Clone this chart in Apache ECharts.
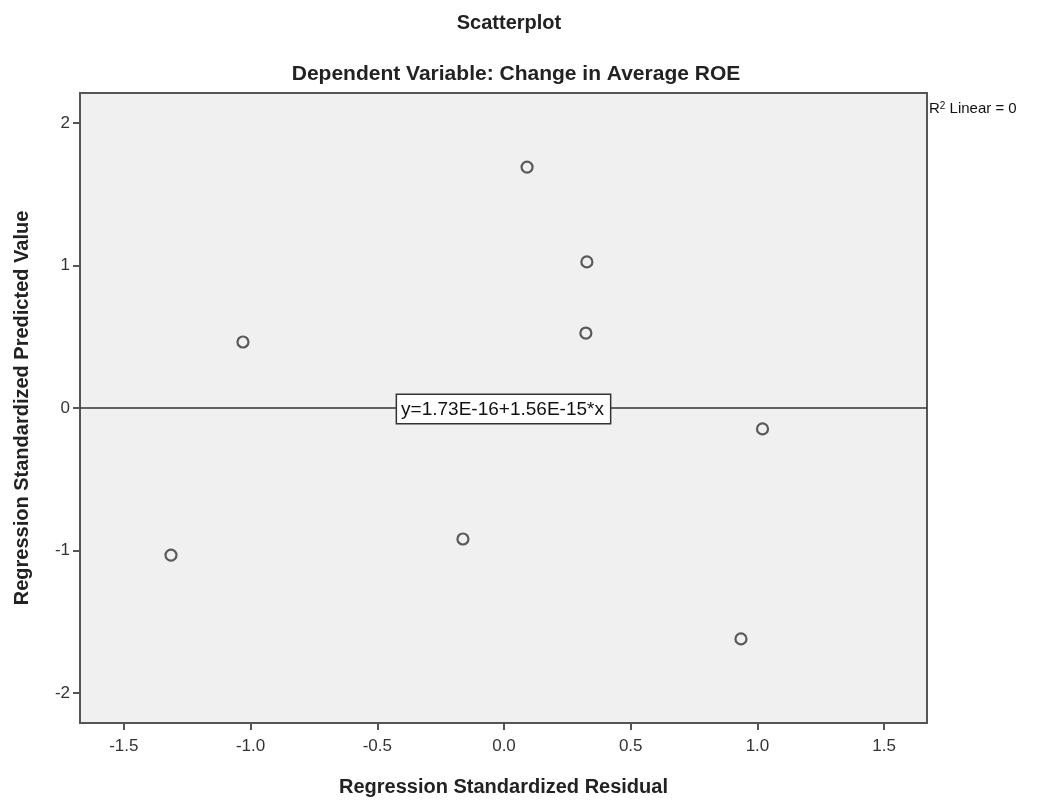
<!DOCTYPE html>
<html>
<head>
	<meta http-equiv="Content-Type" content="text/html;charset=UTF-8">
	<title>Scatterplot</title>
	<style>
		html, body { margin: 0; padding: 0; background: #fff; }
	</style>
</head>
<body>
	<div id="chart" style="width:1038px;height:802px;"></div>

	<script type="text/javascript" src="https://cdn.jsdelivr.net/npm/echarts@6/dist/echarts.min.js"></script>
	<script type="text/javascript">
		// residuals (x) and predicted values (y)
		var residuals = [0.091, 0.327, 0.323, -1.03, 1.02, -0.162, -1.314, 0.935];
		var predicted = [1.69, 1.025, 0.526, 0.463, -0.147, -0.919, -1.032, -1.62];
		var xTicks = [-1.5, -1.0, -0.5, 0.0, 0.5, 1.0, 1.5];
		var yTicks = [-2, -1, 0, 1, 2];
		var fitIntercept = 1.73e-16;
		var fitSlope = 1.56e-15;
		var xRange = [-1.673, 1.669];
		var yRange = [-2.21, 2.21];

		var points = [];
		for (var i = 0; i < residuals.length; i++) {
			points.push([residuals[i], predicted[i]]);
		}

		var chart = echarts.init(document.getElementById('chart'));
		var font = 'Liberation Sans, Arial, sans-serif';

		var option = {
			animation: false,
			textStyle: { fontFamily: font },
			title: [{
				text: 'Scatterplot',
				left: 504, top: 8, textAlign: 'center',
				textStyle: { fontSize: 20, fontWeight: 'bold', color: '#222', fontFamily: font }
			}, {
				text: 'Dependent Variable: Change in Average ROE',
				left: 511, top: 59, textAlign: 'center',
				textStyle: { fontSize: 21, fontWeight: 'bold', color: '#222', fontFamily: font }
			}],
			grid: {
				left: 80, top: 93, width: 847, height: 630,
				show: true, backgroundColor: '#f0f0f0', borderColor: '#555', borderWidth: 2
			},
			xAxis: {
				type: 'value', min: xRange[0], max: xRange[1],
				name: 'Regression Standardized Residual',
				nameLocation: 'middle', nameGap: 54,
				nameTextStyle: { fontSize: 20, fontWeight: 'bold', color: '#222' },
				splitLine: { show: false },
				axisLine: { onZero: false, lineStyle: { color: '#555', width: 2 } },
				axisTick: { customValues: xTicks, length: 7, lineStyle: { color: '#555', width: 2 } },
				axisLabel: {
					customValues: xTicks, fontSize: 17, color: '#333', margin: 15,
					formatter: function (v) { return v.toFixed(1); }
				}
			},
			yAxis: {
				type: 'value', min: yRange[0], max: yRange[1],
				name: 'Regression Standardized Predicted Value',
				nameLocation: 'middle', nameGap: 48,
				nameTextStyle: { fontSize: 20, fontWeight: 'bold', color: '#222' },
				splitLine: { show: false },
				axisLine: { onZero: false, lineStyle: { color: '#555', width: 2 } },
				axisTick: { customValues: yTicks, length: 7, lineStyle: { color: '#555', width: 2 } },
				axisLabel: {
					customValues: yTicks, fontSize: 17, color: '#333', margin: 10,
					formatter: function (v) { return String(Math.round(v)); }
				}
			},
			series: [{
				type: 'scatter',
				data: points,
				symbol: 'circle',
				symbolSize: 11,
				itemStyle: { color: '#f0f0f0', borderColor: '#333', borderWidth: 2.2 },
				markLine: {
					silent: true,
					symbol: ['none', 'none'],
					lineStyle: { color: '#333', width: 1.5, type: 'solid' },
					label: {
						show: true, position: 'middle',
						formatter: 'y=1.73E-16+1.56E-15*x',
						fontSize: 19, color: '#111', fontFamily: font,
						backgroundColor: '#fff', borderColor: '#333', borderWidth: 1.5,
						padding: [5, 6, 4, 4], distance: -15
					},
					data: [[
						{ coord: [xRange[0], fitIntercept + fitSlope * xRange[0]] },
						{ coord: [xRange[1], fitIntercept + fitSlope * xRange[1]] }
					]]
				}
			}],
			graphic: [{
				type: 'text', left: 929, top: 101,
				style: {
					text: '{r|R}{s|2}{r| Linear = 0}',
					rich: {
						r: { fontSize: 15, fill: '#111', fontFamily: font },
						s: { fontSize: 10, fill: '#111', fontFamily: font, verticalAlign: 'top', padding: [0, 0, 6, 0] }
					}
				}
			}]
		};

		chart.setOption(option);
	</script>
</body>
</html>
